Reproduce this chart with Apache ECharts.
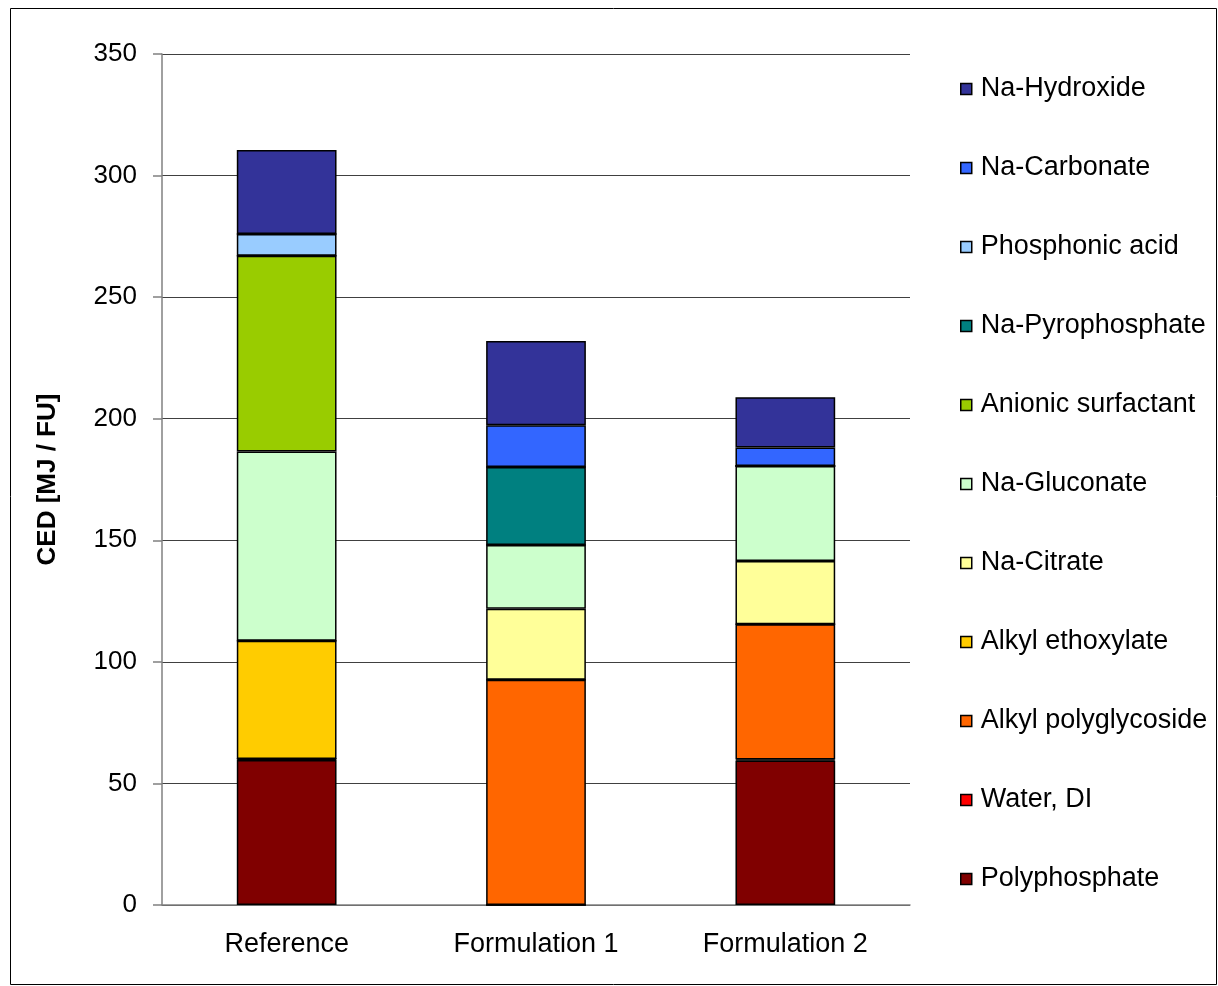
<!DOCTYPE html>
<html>
<head>
<meta charset="utf-8">
<style>
  html, body { margin: 0; padding: 0; background: #fff; }
  #chart { width: 1218px; height: 986px; }
</style>
<script src="https://cdn.jsdelivr.net/npm/echarts@6/dist/echarts.min.js"></script>
</head>
<body>
<div id="chart"></div>
<script>
// Cumulative energy demand per functional unit, split by ingredient
const categories = ['Reference', 'Formulation 1', 'Formulation 2'];

const polyphosphate      = [59.6, 0, 59.4];
const waterDI            = [0.4, 0, 0.4];
const alkylPolyglycoside = [0, 92.6, 55.7];
const alkylEthoxylate    = [48.7, 0, 0];
const naCitrate          = [0, 29.2, 26.0];
const naGluconate        = [77.8, 26.3, 39.1];
const anionicSurfactant  = [80.5, 0, 0];
const naPyrophosphate    = [0, 32.0, 0];
const phosphonicAcid     = [9.0, 0, 0];
const naCarbonate        = [0, 17.2, 7.6];
const naHydroxide        = [34.5, 34.7, 20.6];

const yTicks = [0, 50, 100, 150, 200, 250, 300, 350];

const seriesDefs = [
  ['Polyphosphate', polyphosphate, '#800000'],
  ['Water, DI', waterDI, '#FF0000'],
  ['Alkyl polyglycoside', alkylPolyglycoside, '#FF6600'],
  ['Alkyl ethoxylate', alkylEthoxylate, '#FFCC00'],
  ['Na-Citrate', naCitrate, '#FFFF99'],
  ['Na-Gluconate', naGluconate, '#CCFFCC'],
  ['Anionic surfactant', anionicSurfactant, '#99CC00'],
  ['Na-Pyrophosphate', naPyrophosphate, '#008080'],
  ['Phosphonic acid', phosphonicAcid, '#99CCFF'],
  ['Na-Carbonate', naCarbonate, '#3366FF'],
  ['Na-Hydroxide', naHydroxide, '#333399']
];

const font = 'Liberation Sans, Arial, sans-serif';

const chart = echarts.init(document.getElementById('chart'), null, { renderer: 'canvas' });

chart.setOption({
  backgroundColor: '#ffffff',
  animation: false,
  graphic: [{
    type: 'rect',
    shape: { x: 10.5, y: 8.5, width: 1206, height: 976 },
    style: { fill: 'none', stroke: '#000', lineWidth: 1 },
    silent: true
  }],
  grid: { left: 162, right: 308, top: 54, bottom: 81 },
  legend: {
    orient: 'vertical',
    left: 955,
    top: 69,
    itemWidth: 11,
    itemHeight: 11,
    itemGap: 49,
    icon: 'rect',
    data: seriesDefs.map(d => d[0]).reverse(),
    textStyle: { fontFamily: font, fontSize: 27, color: '#000', lineHeight: 30, padding: [0, 0, 0, 4] },
    itemStyle: { borderColor: '#000', borderWidth: 1.5 }
  },
  xAxis: {
    type: 'category',
    data: categories,
    axisLine: { lineStyle: { color: '#808080', width: 1.5 } },
    axisTick: { alignWithLabel: false, length: 8, lineStyle: { color: '#808080', width: 1.5 } },
    axisLabel: { fontFamily: font, fontSize: 27, color: '#000', margin: 26 }
  },
  yAxis: {
    type: 'value',
    min: 0,
    max: 350,
    interval: 50,
    name: 'CED [MJ / FU]',
    nameLocation: 'middle',
    nameGap: 101,
    nameTextStyle: { fontFamily: font, fontSize: 26, fontWeight: 'bold', color: '#000' },
    axisLine: { show: true, lineStyle: { color: '#808080', width: 1.5 } },
    axisTick: { show: true, length: 9, lineStyle: { color: '#808080', width: 1.5 } },
    axisLabel: {
      fontFamily: font, fontSize: 26, color: '#000', margin: 25,
      formatter: v => (yTicks.indexOf(v) >= 0 ? String(v) : '')
    },
    splitLine: { lineStyle: { color: '#404040', width: 1 } }
  },
  series: seriesDefs.map(([name, values, color]) => ({
    name,
    type: 'bar',
    stack: 'ced',
    barWidth: '40%',
    data: values,
    itemStyle: { color, borderColor: '#000', borderWidth: 1.5 },
    emphasis: { disabled: true }
  }))
});
</script>
</body>
</html>
